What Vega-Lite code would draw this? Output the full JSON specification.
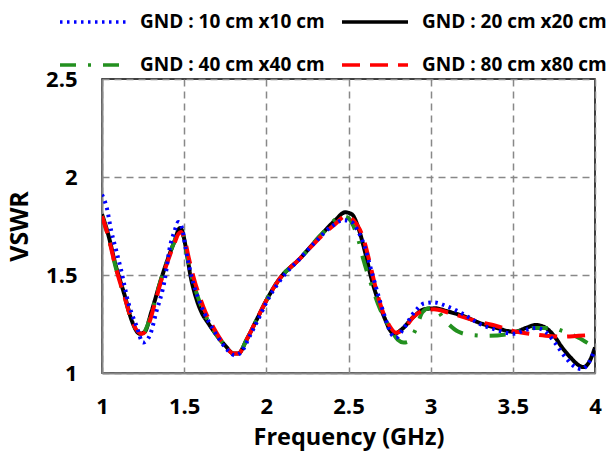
{
  "$schema": "https://vega.github.io/schema/vega-lite/v6.json",
  "width": 493,
  "height": 294,
  "autosize": "none",
  "padding": {"left": 102, "top": 79, "right": 16, "bottom": 81},
  "config": {
    "font": "Open Sans",
    "view": {"stroke": "#000000", "strokeWidth": 1.5},
    "axis": {
      "labelFont": "Open Sans", "labelFontWeight": "bold", "labelFontSize": 22, "labelColor": "#000000",
      "titleFont": "Open Sans", "titleFontWeight": "bold", "titleFontSize": 23.5, "titleColor": "#000000",
      "domainColor": "#888888", "domainWidth": 2,
      "gridColor": "#888888", "gridWidth": 1.5, "gridDash": [7, 5], "gridOpacity": 1,
      "ticks": false
    },
    "legend": {
      "orient": "none", "legendX": -22, "legendY": -70, "columns": 2, "direction": "horizontal",
      "symbolType": "M-3,0H3", "symbolSize": 484, "symbolStrokeWidth": 3.5,
      "labelFont": "Open Sans", "labelFontWeight": "bold", "labelFontSize": 19, "labelColor": "#000000",
      "labelOffset": 34, "rowPadding": 20, "columnPadding": 10, "labelLimit": 300, "title": null
    }
  },
  "data": {"values": [
    {"s":"GND : 20 cm x20 cm","f":1.00,"v":1.81},{"s":"GND : 20 cm x20 cm","f":1.04,"v":1.70},{"s":"GND : 20 cm x20 cm","f":1.08,"v":1.56},{"s":"GND : 20 cm x20 cm","f":1.14,"v":1.39},{"s":"GND : 20 cm x20 cm","f":1.18,"v":1.27},{"s":"GND : 20 cm x20 cm","f":1.23,"v":1.20},{"s":"GND : 20 cm x20 cm","f":1.26,"v":1.21},{"s":"GND : 20 cm x20 cm","f":1.30,"v":1.31},{"s":"GND : 20 cm x20 cm","f":1.36,"v":1.48},{"s":"GND : 20 cm x20 cm","f":1.40,"v":1.58},{"s":"GND : 20 cm x20 cm","f":1.44,"v":1.67},{"s":"GND : 20 cm x20 cm","f":1.475,"v":1.74},{"s":"GND : 20 cm x20 cm","f":1.49,"v":1.72},{"s":"GND : 20 cm x20 cm","f":1.51,"v":1.64},{"s":"GND : 20 cm x20 cm","f":1.54,"v":1.49},{"s":"GND : 20 cm x20 cm","f":1.57,"v":1.39},{"s":"GND : 20 cm x20 cm","f":1.60,"v":1.32},{"s":"GND : 20 cm x20 cm","f":1.65,"v":1.25},{"s":"GND : 20 cm x20 cm","f":1.70,"v":1.19},{"s":"GND : 20 cm x20 cm","f":1.75,"v":1.14},{"s":"GND : 20 cm x20 cm","f":1.80,"v":1.10},{"s":"GND : 20 cm x20 cm","f":1.83,"v":1.10},{"s":"GND : 20 cm x20 cm","f":1.88,"v":1.17},{"s":"GND : 20 cm x20 cm","f":1.94,"v":1.27},{"s":"GND : 20 cm x20 cm","f":2.00,"v":1.37},{"s":"GND : 20 cm x20 cm","f":2.08,"v":1.48},{"s":"GND : 20 cm x20 cm","f":2.20,"v":1.58},{"s":"GND : 20 cm x20 cm","f":2.35,"v":1.72},{"s":"GND : 20 cm x20 cm","f":2.42,"v":1.78},{"s":"GND : 20 cm x20 cm","f":2.48,"v":1.82},{"s":"GND : 20 cm x20 cm","f":2.52,"v":1.81},{"s":"GND : 20 cm x20 cm","f":2.56,"v":1.74},{"s":"GND : 20 cm x20 cm","f":2.60,"v":1.62},{"s":"GND : 20 cm x20 cm","f":2.64,"v":1.48},{"s":"GND : 20 cm x20 cm","f":2.68,"v":1.37},{"s":"GND : 20 cm x20 cm","f":2.72,"v":1.28},{"s":"GND : 20 cm x20 cm","f":2.76,"v":1.21},{"s":"GND : 20 cm x20 cm","f":2.78,"v":1.20},{"s":"GND : 20 cm x20 cm","f":2.82,"v":1.22},{"s":"GND : 20 cm x20 cm","f":2.90,"v":1.29},{"s":"GND : 20 cm x20 cm","f":2.96,"v":1.325},{"s":"GND : 20 cm x20 cm","f":3.03,"v":1.33},{"s":"GND : 20 cm x20 cm","f":3.10,"v":1.315},{"s":"GND : 20 cm x20 cm","f":3.20,"v":1.29},{"s":"GND : 20 cm x20 cm","f":3.30,"v":1.255},{"s":"GND : 20 cm x20 cm","f":3.40,"v":1.23},{"s":"GND : 20 cm x20 cm","f":3.51,"v":1.21},{"s":"GND : 20 cm x20 cm","f":3.58,"v":1.23},{"s":"GND : 20 cm x20 cm","f":3.64,"v":1.245},{"s":"GND : 20 cm x20 cm","f":3.70,"v":1.23},{"s":"GND : 20 cm x20 cm","f":3.75,"v":1.19},{"s":"GND : 20 cm x20 cm","f":3.80,"v":1.13},{"s":"GND : 20 cm x20 cm","f":3.85,"v":1.08},{"s":"GND : 20 cm x20 cm","f":3.90,"v":1.04},{"s":"GND : 20 cm x20 cm","f":3.93,"v":1.03},{"s":"GND : 20 cm x20 cm","f":3.96,"v":1.05},{"s":"GND : 20 cm x20 cm","f":4.00,"v":1.13},

    {"s":"GND : 40 cm x40 cm","f":1.00,"v":1.80},{"s":"GND : 40 cm x40 cm","f":1.04,"v":1.69},{"s":"GND : 40 cm x40 cm","f":1.08,"v":1.55},{"s":"GND : 40 cm x40 cm","f":1.14,"v":1.38},{"s":"GND : 40 cm x40 cm","f":1.18,"v":1.27},{"s":"GND : 40 cm x40 cm","f":1.22,"v":1.21},{"s":"GND : 40 cm x40 cm","f":1.245,"v":1.20},{"s":"GND : 40 cm x40 cm","f":1.28,"v":1.25},{"s":"GND : 40 cm x40 cm","f":1.32,"v":1.36},{"s":"GND : 40 cm x40 cm","f":1.36,"v":1.48},{"s":"GND : 40 cm x40 cm","f":1.40,"v":1.58},{"s":"GND : 40 cm x40 cm","f":1.44,"v":1.67},{"s":"GND : 40 cm x40 cm","f":1.47,"v":1.73},{"s":"GND : 40 cm x40 cm","f":1.49,"v":1.71},{"s":"GND : 40 cm x40 cm","f":1.52,"v":1.59},{"s":"GND : 40 cm x40 cm","f":1.55,"v":1.48},{"s":"GND : 40 cm x40 cm","f":1.60,"v":1.35},{"s":"GND : 40 cm x40 cm","f":1.65,"v":1.26},{"s":"GND : 40 cm x40 cm","f":1.70,"v":1.19},{"s":"GND : 40 cm x40 cm","f":1.75,"v":1.14},{"s":"GND : 40 cm x40 cm","f":1.80,"v":1.10},{"s":"GND : 40 cm x40 cm","f":1.83,"v":1.10},{"s":"GND : 40 cm x40 cm","f":1.88,"v":1.17},{"s":"GND : 40 cm x40 cm","f":1.94,"v":1.27},{"s":"GND : 40 cm x40 cm","f":2.00,"v":1.37},{"s":"GND : 40 cm x40 cm","f":2.08,"v":1.48},{"s":"GND : 40 cm x40 cm","f":2.20,"v":1.58},{"s":"GND : 40 cm x40 cm","f":2.35,"v":1.72},{"s":"GND : 40 cm x40 cm","f":2.46,"v":1.80},{"s":"GND : 40 cm x40 cm","f":2.50,"v":1.79},{"s":"GND : 40 cm x40 cm","f":2.53,"v":1.75},{"s":"GND : 40 cm x40 cm","f":2.56,"v":1.68},{"s":"GND : 40 cm x40 cm","f":2.59,"v":1.58},{"s":"GND : 40 cm x40 cm","f":2.635,"v":1.46},{"s":"GND : 40 cm x40 cm","f":2.69,"v":1.33},{"s":"GND : 40 cm x40 cm","f":2.745,"v":1.24},{"s":"GND : 40 cm x40 cm","f":2.80,"v":1.17},{"s":"GND : 40 cm x40 cm","f":2.835,"v":1.155},{"s":"GND : 40 cm x40 cm","f":2.865,"v":1.16},{"s":"GND : 40 cm x40 cm","f":2.91,"v":1.225},{"s":"GND : 40 cm x40 cm","f":2.95,"v":1.31},{"s":"GND : 40 cm x40 cm","f":2.99,"v":1.33},{"s":"GND : 40 cm x40 cm","f":3.02,"v":1.33},{"s":"GND : 40 cm x40 cm","f":3.09,"v":1.265},{"s":"GND : 40 cm x40 cm","f":3.17,"v":1.21},{"s":"GND : 40 cm x40 cm","f":3.24,"v":1.195},{"s":"GND : 40 cm x40 cm","f":3.35,"v":1.19},{"s":"GND : 40 cm x40 cm","f":3.48,"v":1.20},{"s":"GND : 40 cm x40 cm","f":3.62,"v":1.23},{"s":"GND : 40 cm x40 cm","f":3.74,"v":1.23},{"s":"GND : 40 cm x40 cm","f":3.80,"v":1.215},{"s":"GND : 40 cm x40 cm","f":3.90,"v":1.18},{"s":"GND : 40 cm x40 cm","f":3.98,"v":1.14},{"s":"GND : 40 cm x40 cm","f":4.00,"v":1.13},

    {"s":"GND : 80 cm x80 cm","f":1.00,"v":1.80},{"s":"GND : 80 cm x80 cm","f":1.04,"v":1.69},{"s":"GND : 80 cm x80 cm","f":1.08,"v":1.55},{"s":"GND : 80 cm x80 cm","f":1.14,"v":1.38},{"s":"GND : 80 cm x80 cm","f":1.18,"v":1.27},{"s":"GND : 80 cm x80 cm","f":1.22,"v":1.21},{"s":"GND : 80 cm x80 cm","f":1.245,"v":1.20},{"s":"GND : 80 cm x80 cm","f":1.28,"v":1.24},{"s":"GND : 80 cm x80 cm","f":1.32,"v":1.35},{"s":"GND : 80 cm x80 cm","f":1.36,"v":1.47},{"s":"GND : 80 cm x80 cm","f":1.40,"v":1.57},{"s":"GND : 80 cm x80 cm","f":1.44,"v":1.66},{"s":"GND : 80 cm x80 cm","f":1.465,"v":1.71},{"s":"GND : 80 cm x80 cm","f":1.48,"v":1.72},{"s":"GND : 80 cm x80 cm","f":1.50,"v":1.69},{"s":"GND : 80 cm x80 cm","f":1.53,"v":1.58},{"s":"GND : 80 cm x80 cm","f":1.56,"v":1.48},{"s":"GND : 80 cm x80 cm","f":1.59,"v":1.40},{"s":"GND : 80 cm x80 cm","f":1.63,"v":1.31},{"s":"GND : 80 cm x80 cm","f":1.68,"v":1.23},{"s":"GND : 80 cm x80 cm","f":1.74,"v":1.15},{"s":"GND : 80 cm x80 cm","f":1.80,"v":1.10},{"s":"GND : 80 cm x80 cm","f":1.83,"v":1.10},{"s":"GND : 80 cm x80 cm","f":1.88,"v":1.17},{"s":"GND : 80 cm x80 cm","f":1.94,"v":1.27},{"s":"GND : 80 cm x80 cm","f":2.00,"v":1.37},{"s":"GND : 80 cm x80 cm","f":2.08,"v":1.48},{"s":"GND : 80 cm x80 cm","f":2.20,"v":1.58},{"s":"GND : 80 cm x80 cm","f":2.35,"v":1.71},{"s":"GND : 80 cm x80 cm","f":2.42,"v":1.76},{"s":"GND : 80 cm x80 cm","f":2.48,"v":1.80},{"s":"GND : 80 cm x80 cm","f":2.53,"v":1.78},{"s":"GND : 80 cm x80 cm","f":2.57,"v":1.73},{"s":"GND : 80 cm x80 cm","f":2.60,"v":1.66},{"s":"GND : 80 cm x80 cm","f":2.63,"v":1.56},{"s":"GND : 80 cm x80 cm","f":2.67,"v":1.42},{"s":"GND : 80 cm x80 cm","f":2.71,"v":1.31},{"s":"GND : 80 cm x80 cm","f":2.75,"v":1.24},{"s":"GND : 80 cm x80 cm","f":2.79,"v":1.205},{"s":"GND : 80 cm x80 cm","f":2.83,"v":1.22},{"s":"GND : 80 cm x80 cm","f":2.90,"v":1.29},{"s":"GND : 80 cm x80 cm","f":2.96,"v":1.32},{"s":"GND : 80 cm x80 cm","f":3.02,"v":1.325},{"s":"GND : 80 cm x80 cm","f":3.10,"v":1.31},{"s":"GND : 80 cm x80 cm","f":3.20,"v":1.285},{"s":"GND : 80 cm x80 cm","f":3.30,"v":1.26},{"s":"GND : 80 cm x80 cm","f":3.40,"v":1.24},{"s":"GND : 80 cm x80 cm","f":3.50,"v":1.215},{"s":"GND : 80 cm x80 cm","f":3.60,"v":1.20},{"s":"GND : 80 cm x80 cm","f":3.70,"v":1.19},{"s":"GND : 80 cm x80 cm","f":3.80,"v":1.185},{"s":"GND : 80 cm x80 cm","f":3.90,"v":1.19},{"s":"GND : 80 cm x80 cm","f":4.00,"v":1.195},

    {"s":"GND : 10 cm x10 cm","f":1.00,"v":1.91},{"s":"GND : 10 cm x10 cm","f":1.03,"v":1.84},{"s":"GND : 10 cm x10 cm","f":1.055,"v":1.73},{"s":"GND : 10 cm x10 cm","f":1.085,"v":1.63},{"s":"GND : 10 cm x10 cm","f":1.115,"v":1.53},{"s":"GND : 10 cm x10 cm","f":1.16,"v":1.36},{"s":"GND : 10 cm x10 cm","f":1.21,"v":1.24},{"s":"GND : 10 cm x10 cm","f":1.25,"v":1.155},{"s":"GND : 10 cm x10 cm","f":1.29,"v":1.19},{"s":"GND : 10 cm x10 cm","f":1.33,"v":1.31},{"s":"GND : 10 cm x10 cm","f":1.385,"v":1.49},{"s":"GND : 10 cm x10 cm","f":1.41,"v":1.63},{"s":"GND : 10 cm x10 cm","f":1.44,"v":1.72},{"s":"GND : 10 cm x10 cm","f":1.465,"v":1.77},{"s":"GND : 10 cm x10 cm","f":1.49,"v":1.73},{"s":"GND : 10 cm x10 cm","f":1.51,"v":1.63},{"s":"GND : 10 cm x10 cm","f":1.555,"v":1.46},{"s":"GND : 10 cm x10 cm","f":1.60,"v":1.35},{"s":"GND : 10 cm x10 cm","f":1.65,"v":1.26},{"s":"GND : 10 cm x10 cm","f":1.70,"v":1.19},{"s":"GND : 10 cm x10 cm","f":1.75,"v":1.13},{"s":"GND : 10 cm x10 cm","f":1.81,"v":1.09},{"s":"GND : 10 cm x10 cm","f":1.85,"v":1.11},{"s":"GND : 10 cm x10 cm","f":1.90,"v":1.19},{"s":"GND : 10 cm x10 cm","f":1.96,"v":1.29},{"s":"GND : 10 cm x10 cm","f":2.00,"v":1.36},{"s":"GND : 10 cm x10 cm","f":2.10,"v":1.49},{"s":"GND : 10 cm x10 cm","f":2.20,"v":1.58},{"s":"GND : 10 cm x10 cm","f":2.30,"v":1.67},{"s":"GND : 10 cm x10 cm","f":2.40,"v":1.75},{"s":"GND : 10 cm x10 cm","f":2.47,"v":1.78},{"s":"GND : 10 cm x10 cm","f":2.52,"v":1.77},{"s":"GND : 10 cm x10 cm","f":2.56,"v":1.72},{"s":"GND : 10 cm x10 cm","f":2.60,"v":1.64},{"s":"GND : 10 cm x10 cm","f":2.64,"v":1.52},{"s":"GND : 10 cm x10 cm","f":2.68,"v":1.40},{"s":"GND : 10 cm x10 cm","f":2.72,"v":1.29},{"s":"GND : 10 cm x10 cm","f":2.76,"v":1.20},{"s":"GND : 10 cm x10 cm","f":2.79,"v":1.18},{"s":"GND : 10 cm x10 cm","f":2.83,"v":1.22},{"s":"GND : 10 cm x10 cm","f":2.90,"v":1.31},{"s":"GND : 10 cm x10 cm","f":2.96,"v":1.355},{"s":"GND : 10 cm x10 cm","f":3.02,"v":1.36},{"s":"GND : 10 cm x10 cm","f":3.10,"v":1.34},{"s":"GND : 10 cm x10 cm","f":3.20,"v":1.30},{"s":"GND : 10 cm x10 cm","f":3.30,"v":1.25},{"s":"GND : 10 cm x10 cm","f":3.40,"v":1.22},{"s":"GND : 10 cm x10 cm","f":3.50,"v":1.20},{"s":"GND : 10 cm x10 cm","f":3.58,"v":1.22},{"s":"GND : 10 cm x10 cm","f":3.64,"v":1.23},{"s":"GND : 10 cm x10 cm","f":3.70,"v":1.21},{"s":"GND : 10 cm x10 cm","f":3.76,"v":1.15},{"s":"GND : 10 cm x10 cm","f":3.82,"v":1.08},{"s":"GND : 10 cm x10 cm","f":3.88,"v":1.03},{"s":"GND : 10 cm x10 cm","f":3.92,"v":1.02},{"s":"GND : 10 cm x10 cm","f":3.96,"v":1.05},{"s":"GND : 10 cm x10 cm","f":4.00,"v":1.12}
  ]},
  "mark": {"type": "line", "interpolate": "monotone", "strokeWidth": 4, "clip": true},
  "encoding": {
    "x": {"field": "f", "type": "quantitative", "title": "Frequency (GHz)",
      "scale": {"domain": [1, 4], "nice": false, "zero": false},
      "axis": {"values": [1, 1.5, 2, 2.5, 3, 3.5, 4], "format": "~g", "labelPadding": 23, "titlePadding": 8, "labelFlush": false}},
    "y": {"field": "v", "type": "quantitative", "title": "VSWR",
      "scale": {"domain": [1, 2.5], "nice": false, "zero": false},
      "axis": {"values": [1, 1.5, 2, 2.5], "format": "~g", "labelPadding": 25, "titlePadding": 13, "titleFontSize": 25, "labelFlush": false}},
    "color": {"field": "s", "type": "nominal", "title": null,
      "scale": {"domain": ["GND : 10 cm x10 cm", "GND : 20 cm x20 cm", "GND : 40 cm x40 cm", "GND : 80 cm x80 cm"],
                "range": ["#0000FF", "#000000", "#23901F", "#FF0000"]}},
    "strokeDash": {"field": "s", "type": "nominal", "title": null,
      "scale": {"domain": ["GND : 10 cm x10 cm", "GND : 20 cm x20 cm", "GND : 40 cm x40 cm", "GND : 80 cm x80 cm"],
                "range": [[2.5, 4.5], [1, 0], [16, 12, 3, 12], [18, 10]]}}
  }
}
